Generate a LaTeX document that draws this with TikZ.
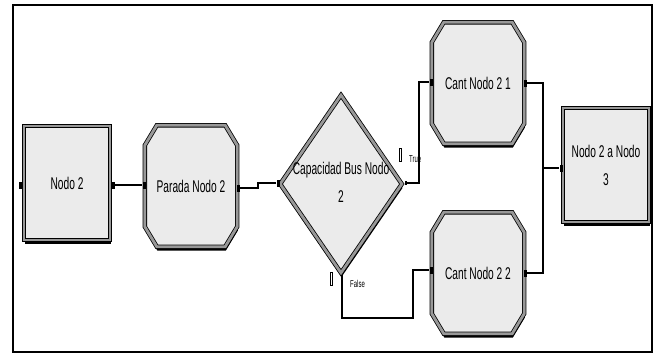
\documentclass[tikz,border=0pt]{standalone}
\usepackage{fontspec}
\usepackage{tikz}
\usetikzlibrary{shapes.geometric,shadows,positioning,calc}
\newfontfamily\arenafont[FakeStretch=0.6]{Liberation Sans}
\definecolor{modfill}{HTML}{EBEBEB}
\definecolor{modband}{HTML}{989898}

\tikzset{
  modline/.style={draw=black, line width=0.8pt, fill=modfill, double=modband, double distance=2.8pt,
    general shadow={fill=black, shadow xshift=0.6pt, shadow yshift=-4pt}},
  modtext/.style={font=\arenafont\fontsize{17}{28}\selectfont, align=center, inner sep=0pt},
  module/.style={modline, modtext},
  process/.style={module, rectangle, minimum width=86pt, minimum height=114pt},
  stationarea/.style={rectangle, inner sep=0pt, minimum width=92pt, minimum height=121pt},
  decide/.style={module, diamond, minimum width=122pt, minimum height=178pt},
  tab/.style={fill=black, inner sep=0pt, minimum width=3pt, minimum height=7pt},
  link/.style={line width=1.3pt},
  branch/.style={font=\arenafont\fontsize{10}{11}\selectfont, inner sep=0pt},
  flag/.style={draw=black, line width=0.5pt, inner sep=0pt, minimum width=2pt, minimum height=13pt}
}

% bevelled eight-sided station drawn round an empty node
\newcommand{\station}[3]{%
  \node[stationarea] (#1) at #2 {};
  \path[modline] ([xshift=12pt]#1.north west) -- ([xshift=-12pt]#1.north east)
    -- ([yshift=-20pt]#1.north east) -- ([yshift=20pt]#1.south east)
    -- ([xshift=-12pt]#1.south east) -- ([xshift=12pt]#1.south west)
    -- ([yshift=20pt]#1.south west) -- ([yshift=-20pt]#1.north west) -- cycle;
  \node[modtext] (#1Lbl) at (#1) {#3};
}

\begin{document}
\begin{tikzpicture}[x=1pt, y=-1pt]
  \useasboundingbox (0,0) rectangle (657,362);
  \fill[white] (0,0) rectangle (657,362);
  \draw[line width=1.3pt] (13,5) rectangle (652,352);

  % Modules
  \node[process] (nodo) at (67,183) {Nodo 2};
  \station{parada}{(191,186)}{Parada Nodo 2}
  \node[decide] (cap) at (341,184) {};
  \node[modtext] (capLbl) at (341,182) {Capacidad Bus Nodo\\2};
  \station{cant1}{(478,83)}{Cant Nodo 2 1}
  \station{cant2}{(478,273)}{Cant Nodo 2 2}
  \node[process] (nodo3) at (606,165) {Nodo 2 a Nodo\\3};

  % Entry / exit points
  \node[tab] (nodoIn) at (20,185) {};
  \node[tab] (nodoOut) at (113,185) {};
  \node[tab] (paradaIn) at (144,185) {};
  \node[tab] (paradaOut) at (238,188) {};
  \node[tab] (capIn) at (278,183) {};
  \node[tab, minimum width=2pt, minimum height=4pt] (capTrue) at (406,183) {};
  \node[tab, minimum width=2pt, minimum height=4pt] (capFalse) at (342,277) {};
  \node[tab] (cant1In) at (431,82) {};
  \node[tab] (cant2In) at (431,270) {};
  \node[tab] (cant1Out) at (525,83) {};
  \node[tab] (cant2Out) at (525,273) {};
  \node[tab] (nodo3In) at (561,168) {};
  \coordinate (mj) at (543,168);

  % Branch labels
  \node[flag] (flagT) at (400,155) {};
  \node[branch, anchor=west] (lblT) at (409,159) {True};
  \node[flag] (flagF) at (331,279) {};
  \node[branch, anchor=west] (lblF) at (350,284) {False};

  % Connectors
  \draw[link] (nodoOut) -- (paradaIn);
  \draw[link] (paradaOut) -- ++(20,0) |- (capIn);
  \draw[link] (capTrue) -| ($(cant1In)+(-12,0)$) -- (cant1In);
  \draw[link] (capFalse) -- ++(0,41) -| ($(cant2In)+(-18,0)$) -- (cant2In);
  \draw[link] (cant1Out) -| (mj);
  \draw[link] (cant2Out) -| (mj) -- (nodo3In);
\end{tikzpicture}
\end{document}
